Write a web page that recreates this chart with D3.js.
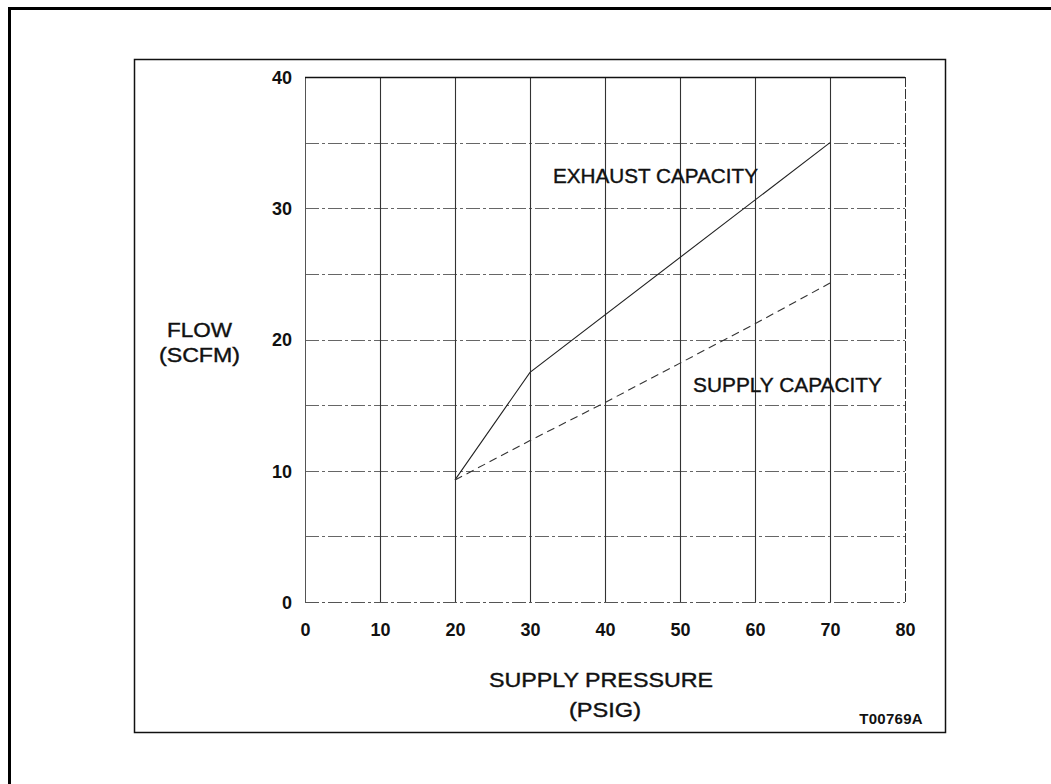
<!DOCTYPE html>
<html>
<head>
<meta charset="utf-8">
<script src="https://cdn.jsdelivr.net/npm/d3@7"></script>
<style>
  html, body { margin: 0; padding: 0; background: #fff; }
  svg { display: block; }
  text { font-family: "Liberation Sans", Arial, Helvetica, sans-serif; fill: #111; }
</style>
</head>
<body>
<svg id="chart" width="1051" height="784"></svg>
<script>
// ---- data ----
const xTicks = [0, 10, 20, 30, 40, 50, 60, 70, 80];
const yTicks = [0, 10, 20, 30, 40];
const yGrid = [5, 10, 15, 20, 25, 30, 35];
const exhaustPressure = [20, 30, 70];
const exhaustFlow = [9.3, 17.5, 35.0];
const supplyPressure = [20, 30, 40, 50, 60, 70];
const supplyFlow = [9.3, 12.3, 15.2, 18.2, 21.2, 24.3];
const xTitle = ["SUPPLY PRESSURE", "(PSIG)"];
const yTitle = ["FLOW", "(SCFM)"];
const seriesLabels = ["EXHAUST CAPACITY", "SUPPLY CAPACITY"];
const figureId = "T00769A";

const svg = d3.select("#chart");

// outer and inner frames
svg.append("rect").attr("x", 9.5).attr("y", 8.5).attr("width", 1100).attr("height", 900)
  .attr("fill", "none").attr("stroke", "#000").attr("stroke-width", 3);
svg.append("rect").attr("x", 134.5).attr("y", 59.5).attr("width", 811).attr("height", 673)
  .attr("fill", "none").attr("stroke", "#111").attr("stroke-width", 1.5);

const x = d3.scaleLinear().domain([0, 80]).range([305, 905]);
const y = d3.scaleLinear().domain([0, 40]).range([602, 77]);

const g = svg.append("g");

// horizontal dash-dot grid
g.selectAll("line.hg").data(yGrid).join("line").attr("class", "hg")
  .attr("x1", x(0)).attr("x2", x(80))
  .attr("y1", d => Math.round(y(d)) + 0.5).attr("y2", d => Math.round(y(d)) + 0.5)
  .attr("stroke", "#666").attr("stroke-width", 1).attr("stroke-dasharray", "14,3,3,3");

// bottom (0) dash-dot
g.append("line").attr("x1", x(0)).attr("x2", x(80))
  .attr("y1", Math.round(y(0)) + 0.5).attr("y2", Math.round(y(0)) + 0.5)
  .attr("stroke", "#555").attr("stroke-width", 1).attr("stroke-dasharray", "14,3,3,3");

// vertical grid lines solid
g.selectAll("line.vg").data(xTicks.filter(d => d > 0 && d < 80)).join("line").attr("class", "vg")
  .attr("x1", d => Math.round(x(d)) + 0.5).attr("x2", d => Math.round(x(d)) + 0.5)
  .attr("y1", y(40)).attr("y2", y(0))
  .attr("stroke", "#333").attr("stroke-width", 1.1);

// right edge (80) dashed
g.append("line").attr("x1", Math.round(x(80)) + 0.5).attr("x2", Math.round(x(80)) + 0.5)
  .attr("y1", y(40)).attr("y2", y(0))
  .attr("stroke", "#333").attr("stroke-width", 1).attr("stroke-dasharray", "10,2");

// left axis solid
g.append("line").attr("x1", Math.round(x(0)) + 0.5).attr("x2", Math.round(x(0)) + 0.5)
  .attr("y1", y(40)).attr("y2", y(0)).attr("stroke", "#555").attr("stroke-width", 1);
// top solid
g.append("line").attr("x1", x(0)).attr("x2", x(80))
  .attr("y1", Math.round(y(40)) + 0.5).attr("y2", Math.round(y(40)) + 0.5)
  .attr("stroke", "#111").attr("stroke-width", 1.5);

// axes tick labels
const xAxis = d3.axisBottom(x).tickValues(xTicks).tickSize(0).tickPadding(0);
const xa = svg.append("g").attr("transform", "translate(0,623)").call(xAxis);
xa.select(".domain").remove();
xa.selectAll("text").attr("font-size", 18).attr("font-weight", "bold").attr("fill", "#111")
  .attr("font-family", "'Liberation Sans', Arial, sans-serif").attr("dy", "0.71em");

const yAxis = d3.axisLeft(y).tickValues(yTicks).tickSize(0).tickPadding(0);
const ya = svg.append("g").attr("transform", "translate(292,0)").call(yAxis);
ya.select(".domain").remove();
ya.selectAll("text").attr("font-size", 18).attr("font-weight", "bold").attr("fill", "#111")
  .attr("font-family", "'Liberation Sans', Arial, sans-serif").attr("dy", "0.35em");

// lines
const exhaust = exhaustPressure.map((p, i) => [p, exhaustFlow[i]]);
const supply = supplyPressure.map((p, i) => [p, supplyFlow[i]]);
const line = d3.line().x(d => x(d[0])).y(d => y(d[1]));
svg.append("path").attr("d", line(exhaust)).attr("fill", "none")
  .attr("stroke", "#222").attr("stroke-width", 1.1);
svg.append("path").attr("d", line(supply)).attr("fill", "none")
  .attr("stroke", "#333").attr("stroke-width", 1.1).attr("stroke-dasharray", "8,5");

// text helper: fit text between x0 and x1 (letter-spaced caps)
function label(txt, x0, x1, baseline, size) {
  svg.append("text").attr("x", x0).attr("y", baseline).text(txt)
    .attr("font-size", size).attr("font-weight", "normal")
    .attr("stroke", "#111").attr("stroke-width", 0.4)
    .attr("textLength", x1 - x0).attr("lengthAdjust", "spacingAndGlyphs");
}

label(seriesLabels[0], 553, 758, 183, 20.5);
label(seriesLabels[1], 693, 882, 392, 20.5);
label(yTitle[0], 167, 232, 337, 21);
label(yTitle[1], 159, 240, 362, 21);
label(xTitle[0], 489, 713, 687, 21);
label(xTitle[1], 569, 641, 717, 21);

svg.append("text").attr("x", 923).attr("y", 724).attr("text-anchor", "end")
  .attr("font-size", 15).attr("font-weight", "bold").attr("letter-spacing", 0.3).text(figureId);
</script>
</body>
</html>
